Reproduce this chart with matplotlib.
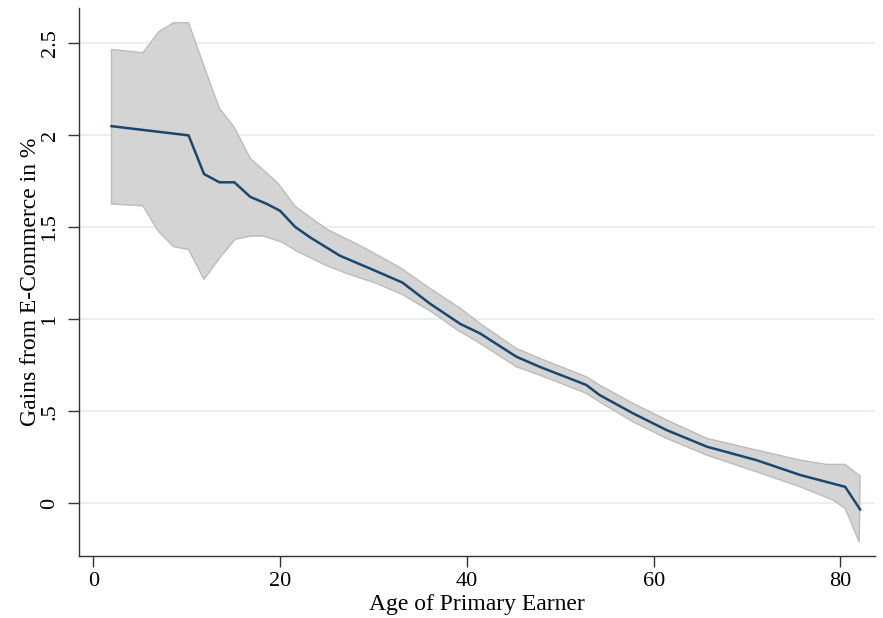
import matplotlib.pyplot as plt
import numpy as np

# point estimate
age = [1.95, 10.2, 11.85, 13.5, 15.1, 16.8, 18.6, 20.0, 21.6, 23.2, 26.4, 29.6,
       33.1, 36.0, 39.3, 41.4, 45.3, 47.8, 51.0, 52.8, 54.2, 57.8, 61.4, 65.7, 71.0,
       75.7, 80.5, 82.1]
gain = [2.05, 2.0, 1.79, 1.745, 1.745, 1.666, 1.627, 1.59, 1.503, 1.446, 1.346, 1.277,
        1.2, 1.087, 0.975, 0.924, 0.797, 0.742, 0.679, 0.643, 0.589, 0.489, 0.398, 0.308,
        0.235, 0.154, 0.09, -0.033]

# confidence band, upper edge
age_hi = [1.95, 5.3, 7.0, 8.6, 10.2, 12.0, 13.5, 15.1, 16.8, 19.8, 21.6, 25.0,
          28.6, 32.9, 36.0, 39.3, 41.4, 45.3, 47.8, 51.0, 52.8, 54.2, 57.8, 61.4, 65.7,
          71.0, 75.7, 78.5, 80.5, 82.1]
gain_hi = [2.467, 2.449, 2.563, 2.612, 2.612, 2.355, 2.147, 2.043, 1.875, 1.739, 1.615,
           1.49, 1.4, 1.28, 1.17, 1.06, 0.978, 0.842, 0.788, 0.724, 0.688, 0.643,
           0.543, 0.453, 0.353, 0.29, 0.235, 0.212, 0.212, 0.148]

# confidence band, lower edge
age_lo = [1.95, 5.3, 7.0, 8.6, 10.2, 11.85, 13.5, 15.2, 16.95, 18.2, 20.2, 21.8, 25.0,
          27.1, 30.3, 33.1, 36.4, 38.9, 41.4, 45.3, 47.8, 51.0, 52.8, 54.2, 57.8, 61.4,
          65.7, 71.0, 75.7, 79.2, 80.5, 82.0]
gain_lo = [1.627, 1.617, 1.476, 1.395, 1.38, 1.217, 1.332, 1.436, 1.453, 1.453, 1.42,
           1.37, 1.292, 1.25, 1.196, 1.135, 1.035, 0.945, 0.87, 0.742, 0.697, 0.634, 0.598,
           0.552, 0.443, 0.353, 0.262, 0.172, 0.09, 0.018, -0.027, -0.209]

x_ticks = [0, 20, 40, 60, 80]
y_ticks = [0, 0.5, 1, 1.5, 2, 2.5]
y_labels = ['0', '.5', '1', '1.5', '2', '2.5']

plt.rcParams['font.family'] = 'Liberation Serif'

fig = plt.figure(figsize=(8.83, 6.18), dpi=100)
ax = fig.add_axes([0.0895, 0.1003, 0.9015, 0.8867])

band_x = np.concatenate([age_hi, age_lo[::-1]])
band_y = np.concatenate([gain_hi, gain_lo[::-1]])
ax.fill(band_x, band_y, facecolor='#d4d4d4', edgecolor='#bcbcbc', linewidth=1.0, zorder=2)
ax.plot(age, gain, color='#1a476f', linewidth=1.8, zorder=3)

ax.set_xlim(-1.53, 83.7)
ax.set_ylim(-0.286, 2.692)
ax.set_xticks(x_ticks)
ax.set_yticks(y_ticks)
ax.set_yticklabels(y_labels, rotation=90, va='center')
ax.tick_params(axis='both', length=8, width=1.0, colors='#333333', labelsize=16,
               labelcolor='black')
ax.tick_params(axis='y', pad=6)

ax.grid(axis='y', color='#e6f1f1', linewidth=1.5, zorder=0)
ax.set_axisbelow(True)
for side in ['top', 'right']:
    ax.spines[side].set_visible(False)
for side in ['left', 'bottom']:
    ax.spines[side].set_color('#333333')
    ax.spines[side].set_linewidth(1.0)

ax.set_xlabel('Age of Primary Earner', fontsize=17, labelpad=2)
ax.set_ylabel('Gains from E-Commerce in %', fontsize=17, labelpad=0)

fig.savefig('out.png', dpi=100)
